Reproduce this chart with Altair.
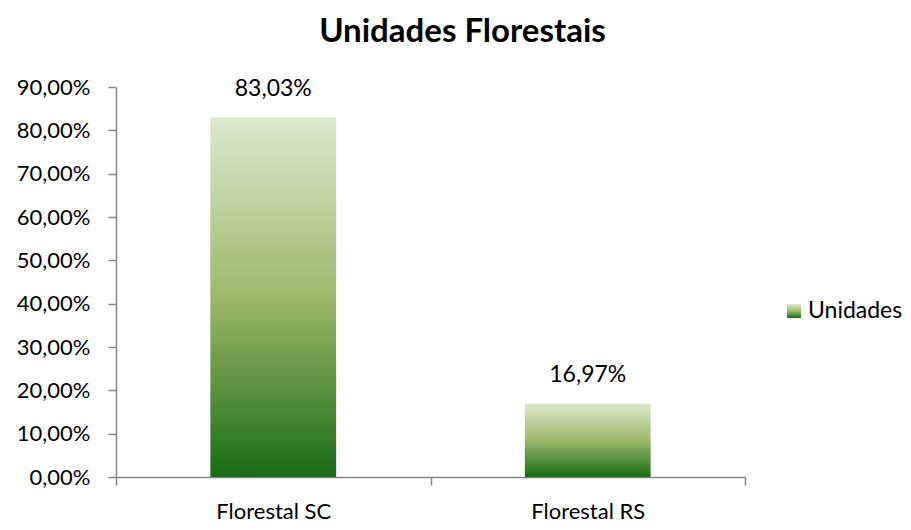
import altair as alt
import pandas as pd

categories = ["Florestal SC", "Florestal RS"]
values = [83.03, 16.97]
series_name = "Unidades"
y_ticks = [0, 10, 20, 30, 40, 50, 60, 70, 80, 90]

df = pd.DataFrame({
    "cat": categories,
    "value": values,
    "label": [f"{v:.2f}".replace(".", ",") + "%" for v in values],
})
legend_df = pd.DataFrame({"series": [series_name]})

grad = alt.LinearGradient(
    gradient="linear",
    stops=[
        alt.GradientStop(offset=0, color="#dce9cd"),
        alt.GradientStop(offset=0.5, color="#9db86c"),
        alt.GradientStop(offset=1, color="#186c14"),
    ],
    x1=0, x2=0, y1=0, y2=1,
)

x_enc = alt.X(
    "cat:N",
    sort=categories,
    scale=alt.Scale(paddingInner=0, paddingOuter=0),
    axis=alt.Axis(
        title=None, labelAngle=0, tickBand="extent", tickSize=8,
        labelPadding=16, labelFontSize=22,
        domainColor="#868686", tickColor="#868686",
        domainWidth=1.5, tickWidth=1.5,
    ),
)
y_enc = alt.Y(
    "value:Q",
    scale=alt.Scale(domain=[0, 90]),
    axis=alt.Axis(
        title=None, values=y_ticks, grid=False, tickSize=8, labelPadding=18,
        labelFontSize=22,
        labelExpr="replace(format(datum.value, '.2f'), '.', ',') + '%'",
        domainColor="#868686", tickColor="#868686",
        domainWidth=1.5, tickWidth=1.5,
    ),
)

bars = alt.Chart(df).mark_bar(color=grad, width=alt.RelativeBandSize(0.4)).encode(
    x=x_enc, y=y_enc
)
texts = alt.Chart(df).mark_text(
    baseline="alphabetic", dy=-21, fontSize=23, font="Lato", color="black"
).encode(x=alt.X("cat:N", sort=categories), y="value:Q", text="label:N")

leg_sym = alt.Chart(legend_df).mark_rect(color=grad).encode(
    x=alt.value(671), x2=alt.value(685), y=alt.value(217), y2=alt.value(231)
)
leg_txt = alt.Chart(legend_df).mark_text(
    align="left", baseline="middle", fontSize=23, font="Lato", color="black"
).encode(x=alt.value(692), y=alt.value(224), text="series:N")

chart = alt.layer(bars, texts, leg_sym, leg_txt).properties(
    width=629,
    height=390,
    title=alt.TitleParams(
        "Unidades Florestais", font="Lato", fontSize=33, fontWeight="bold",
        color="black", anchor="middle", dx=32, baseline="alphabetic", offset=1,
    ),
    autosize=alt.AutoSizeParams(type="none"),
    padding={"left": 108, "top": 79, "right": 158, "bottom": 45},
).configure_view(stroke=None).configure_axis(
    labelFont="Lato", labelColor="black"
)

chart.save("out.html", embed_options={"renderer": "svg", "actions": False})
